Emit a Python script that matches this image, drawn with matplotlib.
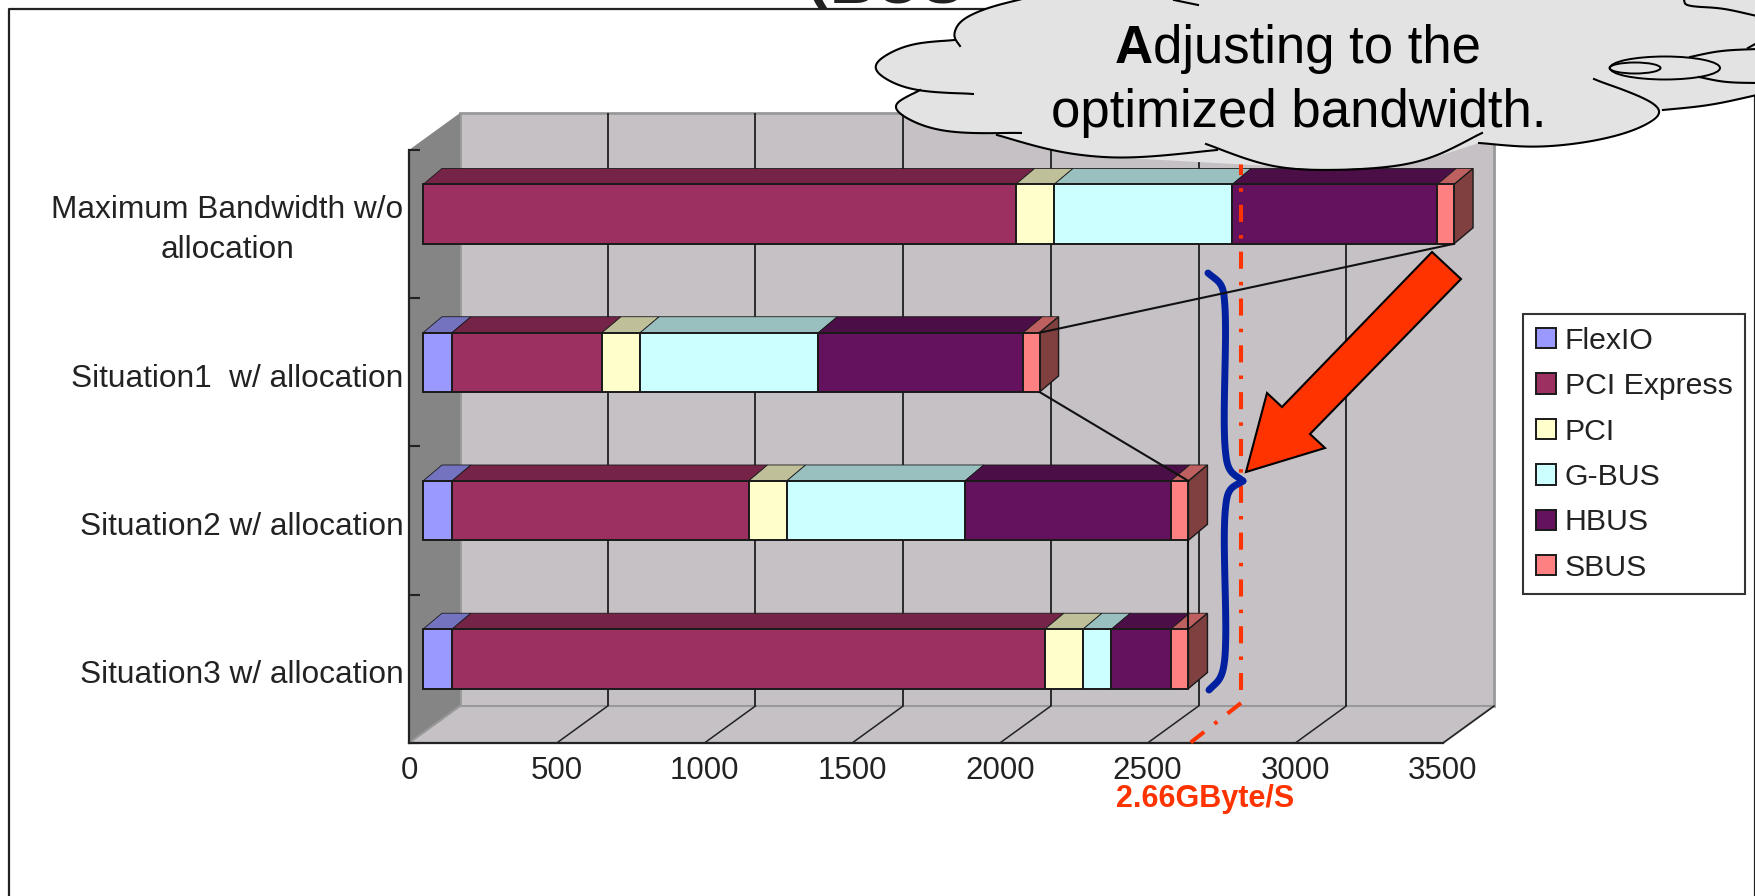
import numpy as np
import matplotlib
matplotlib.use('Agg')
import matplotlib.pyplot as plt
from matplotlib.patches import Polygon, Rectangle, Ellipse
from matplotlib.transforms import Affine2D, IdentityTransform

plt.rcParams['font.family'] = ['Liberation Sans', 'DejaVu Sans']

categories = ['Maximum Bandwidth w/o\nallocation', 'Situation1  w/ allocation',
              'Situation2 w/ allocation', 'Situation3 w/ allocation']
series_names = ['FlexIO', 'PCI Express', 'PCI', 'G-BUS', 'HBUS', 'SBUS']
flexio = [0, 98, 98, 98]
pci_express = [2006, 508, 1004, 2007]
pci = [130, 129, 129, 129]
g_bus = [603, 603, 603, 96]
hbus = [694, 694, 697, 201]
sbus = [57, 55, 60, 60]
x_ticks = [0, 500, 1000, 1500, 2000, 2500, 3000, 3500]

colors = ['#9999ff', '#9c3060', '#ffffcc', '#ccffff', '#64125e', '#ff8080']
wall_color = '#c5c1c5'
red = '#ff3300'
blue = '#0020a0'
W, H = 1756, 896


def shade(color, k):
    rgb = np.array(matplotlib.colors.to_rgb(color)) * k
    return tuple(rgb)


def smooth(pts, n=16, win=13):
    p = np.array(pts, dtype=float)
    if len(p) == 2:
        return p
    p = np.vstack([2 * p[0] - p[1], p, 2 * p[-1] - p[-2]])
    out = []
    for i in range(1, len(p) - 2):
        p0, p1, p2, p3 = p[i - 1], p[i], p[i + 1], p[i + 2]
        t0 = 0.0
        t1 = t0 + np.linalg.norm(p1 - p0) ** 0.5
        t2 = t1 + np.linalg.norm(p2 - p1) ** 0.5
        t3 = t2 + np.linalg.norm(p3 - p2) ** 0.5
        t = np.linspace(t1, t2, n, endpoint=False)[:, None]
        a1 = (t1 - t) / (t1 - t0) * p0 + (t - t0) / (t1 - t0) * p1
        a2 = (t2 - t) / (t2 - t1) * p1 + (t - t1) / (t2 - t1) * p2
        a3 = (t3 - t) / (t3 - t2) * p2 + (t - t2) / (t3 - t2) * p3
        b1 = (t2 - t) / (t2 - t0) * a1 + (t - t0) / (t2 - t0) * a2
        b2 = (t3 - t) / (t3 - t1) * a2 + (t - t1) / (t3 - t1) * a3
        out.append((t2 - t) / (t2 - t1) * b1 + (t - t1) / (t2 - t1) * b2)
    out.append(p[-2][None, :])
    c = np.vstack(out)
    s = c.copy()
    for k in range(1, len(c) - 1):
        h = min(win // 2, k, len(c) - 1 - k)
        s[k] = c[k - h:k + h + 1].mean(axis=0)
    return s


fig = plt.figure(figsize=(W / 100, H / 100), dpi=100, facecolor='white')
ax = fig.add_axes([409 / W, (H - 743) / H, (1443 - 409) / W, (743 - 150) / H], facecolor='none')
ax.set_xlim(0, 3500)
ax.set_ylim(0, 4)
y_pos = [3.5, 2.5, 1.5, 0.5]
bar_h = 0.4

# 3d offsets in pixels
back = ax.transData + Affine2D().translate(51, 37)
front = ax.transData + Affine2D().translate(14, 10)
disp = IdentityTransform()

# walls and floor
corners = ax.transData.transform([[0, 0], [0, 4], [3500, 0]])
wall_back = back.transform([[0, 0], [0, 4], [3500, 0]])
ax.add_patch(Rectangle((0, 0), 3500, 4, transform=back, facecolor=wall_color,
                       edgecolor='#999999', linewidth=2, clip_on=False, zorder=0))
ax.add_patch(Polygon([corners[0], corners[1], wall_back[1], wall_back[0]], transform=disp,
                     facecolor='#858585', edgecolor='none', clip_on=False, zorder=0.5))
ax.add_patch(Polygon([corners[0], wall_back[0], wall_back[2], corners[2]], transform=disp,
                     facecolor=wall_color, edgecolor='#999999', linewidth=1.5, clip_on=False, zorder=0.5))
ax.vlines(x_ticks[1:-1], 0, 4, transform=back, color='#111111', linewidth=1.2, zorder=1, clip_on=False)
for v in x_ticks[1:]:
    a = ax.transData.transform([v, 0])
    b = back.transform([v, 0])
    ax.plot([a[0], b[0]], [a[1], b[1]], transform=disp, color='#222222', linewidth=1.1, zorder=1, clip_on=False)

# stacked bars
series = [flexio, pci_express, pci, g_bus, hbus, sbus]
left = np.zeros(4)
depth = np.array([19, 16])
for vals, name, col in zip(series, series_names, colors):
    vals = np.array(vals, dtype=float)
    ax.barh(y_pos, vals, left=left, height=bar_h, color=col, edgecolor='#1a1a1a', linewidth=1.4,
            transform=front, label=name, zorder=3, clip_on=False)
    for i in range(4):
        if vals[i] == 0:
            continue
        top = y_pos[i] + bar_h / 2
        p = front.transform([[left[i], top], [left[i] + vals[i], top]])
        ax.add_patch(Polygon([p[0], p[1], p[1] + depth, p[0] + depth], transform=disp,
                             facecolor=shade(col, 0.75), edgecolor='#1a1a1a', linewidth=0.6,
                             zorder=2.5, clip_on=False))
    left = left + vals

for i in range(4):
    top = y_pos[i] + bar_h / 2
    p = front.transform([[left[i], top], [left[i], top - bar_h]])
    ax.add_patch(Polygon([p[0], p[0] + depth, p[1] + depth, p[1]], transform=disp,
                         facecolor=shade(colors[-1], 0.5), edgecolor='#1a1a1a', linewidth=1.0,
                         zorder=2.5, clip_on=False))

# axes
for s in ['top', 'right']:
    ax.spines[s].set_visible(False)
ax.spines['left'].set_linewidth(1.6)
ax.spines['bottom'].set_linewidth(1.6)
ax.spines['left'].set_color('#222222')
ax.spines['bottom'].set_color('#222222')
ax.spines['left'].set_zorder(2)
ax.spines['bottom'].set_zorder(2)
ax.set_xticks(x_ticks)
ax.set_xticklabels([str(v) for v in x_ticks], fontsize=22.5, color='#222222')
ax.tick_params(axis='x', length=0, pad=9.5)
ax.set_yticks(y_pos)
ax.set_yticklabels(categories, fontsize=22.8, color='#222222', multialignment='center', linespacing=1.45)
ax.tick_params(axis='y', which='major', length=0, pad=4)
ax.set_yticks([0, 1, 2, 3, 4], minor=True)
ax.tick_params(axis='y', which='minor', direction='in', length=8, width=1.5, color='#222222')
for i, lab in enumerate(ax.get_yticklabels()):
    shift = 3 if i == 0 else -3
    lab.set_transform(lab.get_transform() + Affine2D().translate(0, shift))

ax.legend(loc='upper left', bbox_to_anchor=(1523 / W, (H - 314) / H), bbox_transform=fig.transFigure,
          fontsize=21.8, frameon=True, fancybox=False, framealpha=1, edgecolor='#333333',
          handlelength=0.66, handleheight=0.66, handletextpad=0.3, labelspacing=0.575,
          borderpad=0.42, borderaxespad=0, labelcolor='#222222').get_frame().set_linewidth(1.5)

# overlay in pixel coordinates for the drawn annotations
ov = fig.add_axes([0, 0, 1, 1], facecolor='none', zorder=5)
ov.axis('off')

# page border and the title that runs off the top
ov.plot([9, 9, 1755, 1755], [896, 9, 9, 896], color='#222222', linewidth=1.6, zorder=0)
ov.text(806, -5, '(', fontsize=46, fontweight='bold', color='#222222', va='baseline', zorder=0)
ov.text(830, 3, 'BUS', fontsize=46, fontweight='bold', color='#222222', va='baseline', zorder=0)

# red bandwidth line
dash = (0, (17 / 4, 13 / 4, 3.5 / 4, 13 / 4))
ov.plot([1241, 1241], [158, 690], color=red, linewidth=2.9, linestyle=dash, dash_capstyle='butt', zorder=1)
ov.plot([1241, 1190], [703, 743], color=red, linewidth=2.9, linestyle=dash, dash_capstyle='butt', zorder=1)

# brace
brace_top = smooth([(1208, 273), (1221, 285), (1225, 307), (1225, 447), (1230, 470), (1243, 481)], win=5)
brace_bottom = smooth([(1243, 481), (1230, 490), (1225, 513), (1225, 657), (1220, 678), (1209, 690)], win=5)
ov.plot(brace_top[:, 0], brace_top[:, 1], color=blue, linewidth=5, solid_capstyle='round', zorder=2)
ov.plot(brace_bottom[:, 0], brace_bottom[:, 1], color=blue, linewidth=5, solid_capstyle='round', zorder=2)

# series lines between the bars
ends = np.array([sum(s[i] for s in series) for i in range(4)])
for i in range(3):
    a = front.transform([ends[i], y_pos[i] - bar_h / 2])
    b = front.transform([ends[i + 1], y_pos[i + 1] + bar_h / 2])
    ov.plot([a[0], b[0]], [a[1], b[1]], transform=disp, color='#111111', linewidth=1.5, zorder=3)

# big arrow
ov.add_patch(Polygon([(1432, 252), (1461, 279), (1310, 434), (1325, 448), (1246, 472), (1267, 393), (1282, 407)],
                     facecolor=red, edgecolor='black', linewidth=1.5, zorder=4))
ov.text(1116, 807, '2.66GByte/S', fontsize=22, fontweight='bold', color=red, va='baseline', zorder=4)

# cloud
a1 = [(1022, -1), (985, 9), (960, 22), (954, 36), (960, 46)]
a2 = [(954, 40), (905, 46), (873, 67), (905, 88), (973, 94)]
a3 = [(920, 90), (893, 107), (935, 130), (1021, 133)]
a4 = [(997, 135), (1060, 152), (1125, 158), (1217, 150)]
a5 = [(1206, 144), (1270, 166), (1334, 170), (1420, 162), (1482, 133)]
a6 = [(1479, 143), (1544, 147), (1630, 132), (1663, 110), (1594, 79)]
a7 = [(1663, 110), (1710, 105), (1757, 95)]
a8 = [(1690, 57), (1720, 51), (1757, 49)]
a9 = [(1699, 77), (1725, 82), (1757, 83)]
a10 = [(1684, 0), (1686, 5), (1720, 8), (1757, 16)]
a11 = [(1748, 48), (1757, 43)]
a12 = [(1174, 0), (1198, 5)]
outline = np.vstack([[(1022, -10)], smooth(a1[:4]), smooth(a2[:4]), smooth(a3[:3]), smooth(a4[:3]),
                     smooth(a5[1:4]), smooth(a6[:4]), smooth(a7), [(1760, -10)]])
ov.add_patch(Polygon(outline, facecolor='#e3e3e3', edgecolor='none', zorder=6))
for arc in [a1, a2, a3, a4, a5, a6, a7, a8, a9, a10, a11, a12]:
    c = smooth(arc)
    ov.plot(c[:, 0], c[:, 1], color='black', linewidth=1.5, zorder=7)
ov.add_patch(Ellipse((1665, 68), 110, 23, facecolor='none', edgecolor='black', linewidth=1.4, zorder=7))
ov.add_patch(Ellipse((1635, 68), 51, 11, facecolor='none', edgecolor='black', linewidth=1.4, zorder=7))
ov.text(1115, 63, 'A', fontsize=38, fontweight='bold', color='black', va='baseline', zorder=8)
ov.text(1153, 63, 'djusting to the', fontsize=38, color='black', va='baseline', zorder=8)
ov.text(1051, 127, 'optimized bandwidth.', fontsize=38, color='black', va='baseline', zorder=8)

ov.set_xlim(0, W)
ov.set_ylim(H, 0)

fig.savefig('out.png', dpi=100)
